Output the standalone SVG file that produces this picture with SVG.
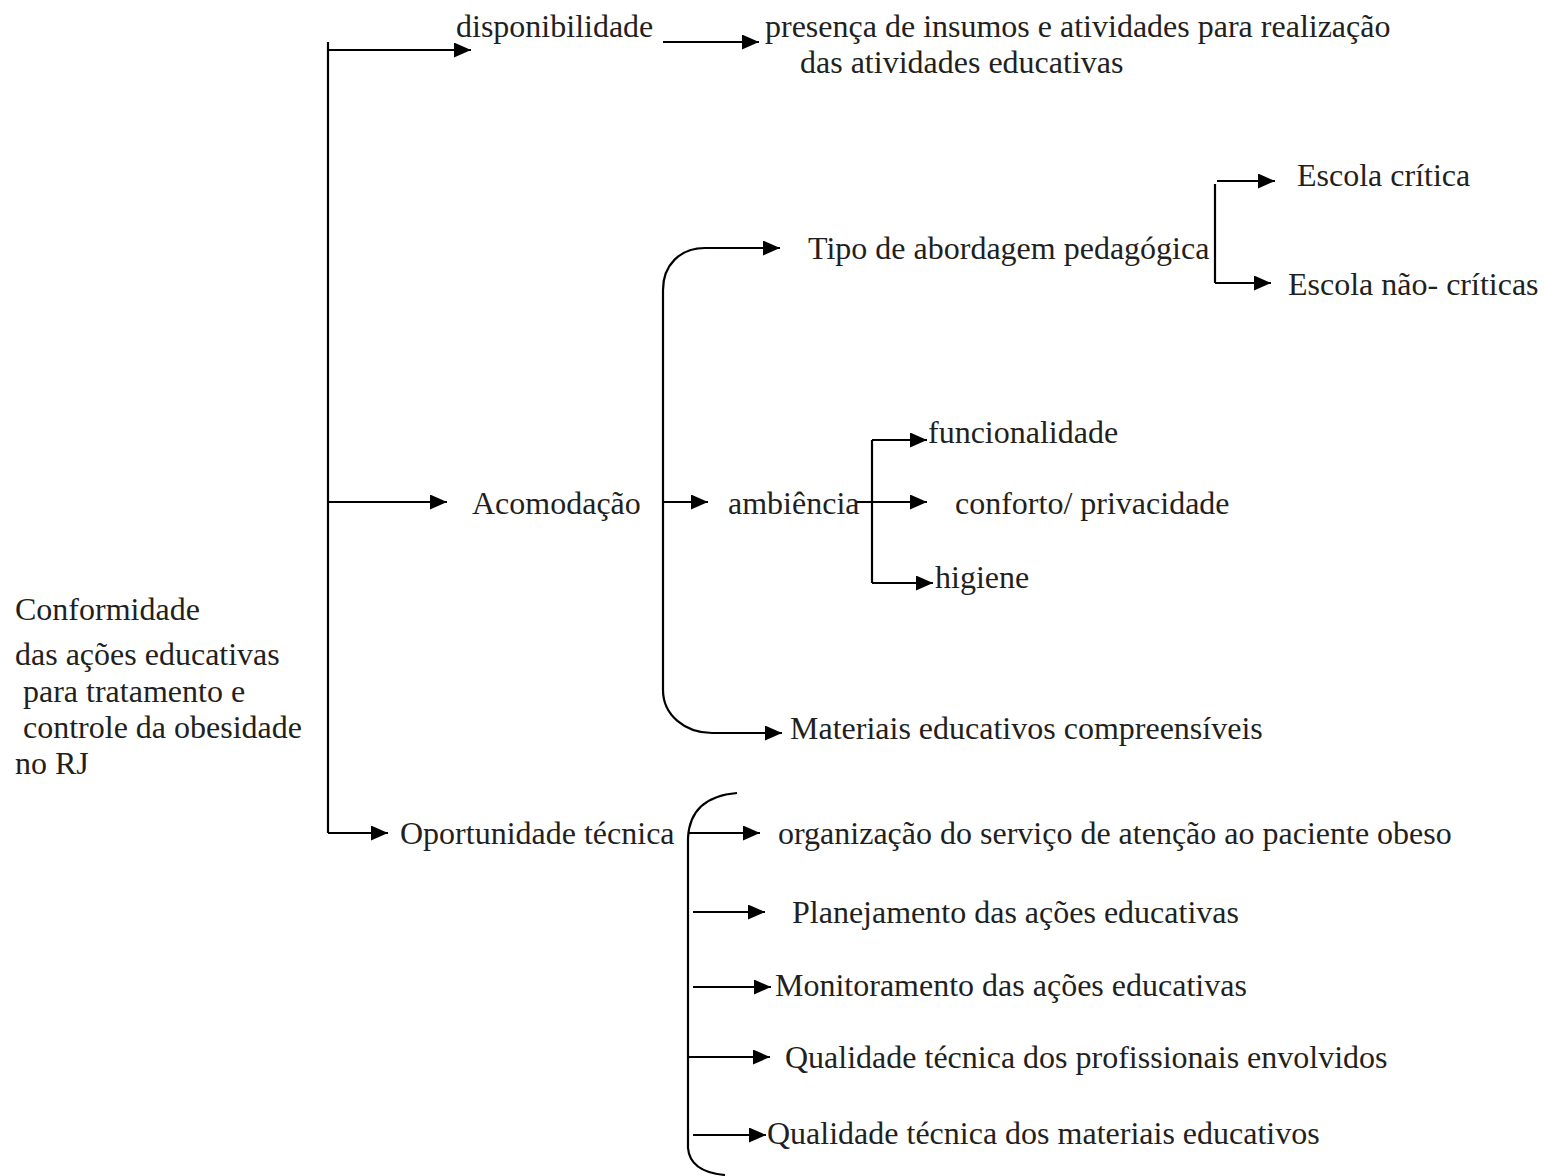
<svg xmlns="http://www.w3.org/2000/svg" width="1544" height="1176" viewBox="0 0 1544 1176">
<style>
text{font-family:"Liberation Serif","Times New Roman",serif;font-size:32px;fill:#231f20}
.c{fill:none;stroke:#000;stroke-width:2.2}
.a{marker-end:url(#ah)}
</style>
<defs>
<marker id="ah" markerUnits="userSpaceOnUse" markerWidth="17" markerHeight="15" refX="17" refY="7.5" orient="auto">
<path d="M0,0 L17,7.5 L0,15 z" fill="#000"/>
</marker>
</defs>
<rect width="1544" height="1176" fill="#fff"/>
<g id="connectors">
<path class="c" d="M328,42 V833"/>
<path class="c a" d="M328,50 H471"/>
<path class="c a" d="M328,502 H447"/>
<path class="c a" d="M328,833 H388"/>
<path class="c a" d="M663,42 H759"/>
<path class="c a" d="M663,502 V290 C663,265 680,248 705,248 H780"/>
<path class="c a" d="M663,502 V690 C663,715 685,733 712,733 H782"/>
<path class="c a" d="M663,502 H708"/>
<path class="c a" d="M855,502 H927"/>
<path class="c" d="M872,440 V583"/>
<path class="c a" d="M872,440 H927"/>
<path class="c a" d="M872,583 H933"/>
<path class="c" d="M1215,184 V283"/>
<path class="c a" d="M1217,181 H1275"/>
<path class="c a" d="M1215,283 H1271"/>
<path class="c" d="M737,793 Q690,797 688,838 V1148 Q690,1172 725,1175"/>
<path class="c a" d="M688,833 H760"/>
<path class="c a" d="M693,912 H765"/>
<path class="c a" d="M693,987 H771"/>
<path class="c a" d="M688,1057 H770"/>
<path class="c a" d="M693,1135 H766"/>
</g>
<g id="root">
<text x="15" y="620">Conformidade</text>
<text x="15" y="665">das ações educativas</text>
<text x="23" y="702">para tratamento e</text>
<text x="23" y="738">controle da obesidade</text>
<text x="15" y="774">no RJ</text>
</g>
<g id="disponibilidade"><text x="456" y="37">disponibilidade</text></g>
<g id="presenca">
<text x="765" y="37">presença de insumos e atividades para realização</text>
<text x="800" y="73">das atividades educativas</text>
</g>
<g id="acomodacao"><text x="472" y="514">Acomodação</text></g>
<g id="tipo"><text x="808" y="259">Tipo de abordagem pedagógica</text></g>
<g id="escola-critica"><text x="1297" y="186">Escola crítica</text></g>
<g id="escola-nao-criticas"><text x="1288" y="295">Escola não- críticas</text></g>
<g id="ambiencia"><text x="728" y="514">ambiência</text></g>
<g id="funcionalidade"><text x="928" y="443">funcionalidade</text></g>
<g id="conforto"><text x="955" y="514">conforto/ privacidade</text></g>
<g id="higiene"><text x="935" y="588">higiene</text></g>
<g id="materiais"><text x="790" y="739">Materiais educativos compreensíveis</text></g>
<g id="oportunidade"><text x="400" y="844">Oportunidade técnica</text></g>
<g id="organizacao"><text x="778" y="844">organização do serviço de atenção ao paciente obeso</text></g>
<g id="planejamento"><text x="792" y="923">Planejamento das ações educativas</text></g>
<g id="monitoramento"><text x="775" y="996">Monitoramento das ações educativas</text></g>
<g id="qualidade-prof"><text x="785" y="1068">Qualidade técnica dos profissionais envolvidos</text></g>
<g id="qualidade-mat"><text x="767" y="1144">Qualidade técnica dos materiais educativos</text></g>
</svg>
